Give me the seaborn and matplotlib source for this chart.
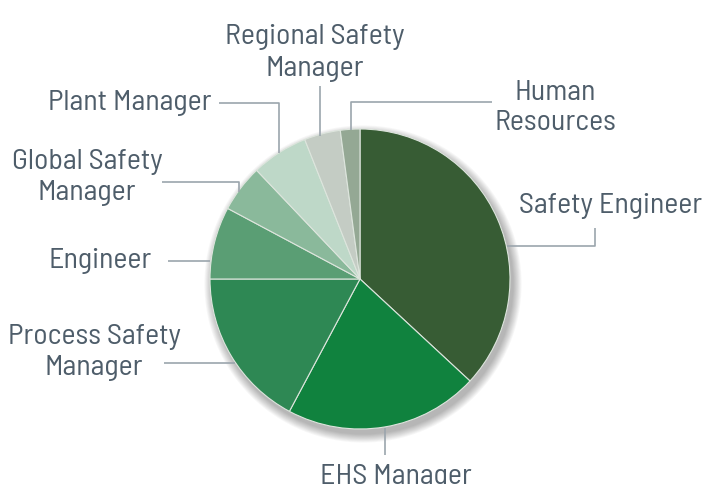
import matplotlib
matplotlib.use('Agg')
import matplotlib.pyplot as plt
import seaborn as sns
from matplotlib.patches import Circle

# job roles, clockwise from the top
roles = ['Safety Engineer', 'EHS Manager', 'Process Safety\nManager', 'Engineer',
         'Global Safety\nManager', 'Plant Manager', 'Regional Safety\nManager', 'Human\nResources']
shares = [36.9, 20.9, 17.2, 7.8, 5.1, 6.1, 3.9, 2.1]
colors = ['#375c34', '#10823e', '#2e8854', '#5a9e74', '#8ab99b', '#bed8c8', '#c4ccc4', '#94a894']

W, H = 708, 485
CX, CY, R = 360, 280, 150
TEXT = '#4e5d6a'
LINE = '#9ba5ad'

# label placement in pixels: (x, y, ha), and leader polylines
label_pos = {
    'Safety Engineer': (519, 206, 'left'),
    'EHS Manager': (396, 477, 'center'),
    'Process Safety\nManager': (94, 353, 'center'),
    'Engineer': (100, 261, 'center'),
    'Global Safety\nManager': (87, 178, 'center'),
    'Plant Manager': (211, 103, 'right'),
    'Regional Safety\nManager': (315, 53, 'center'),
    'Human\nResources': (555, 108, 'center'),
}
leaders = {
    'Safety Engineer': [(507, 247), (595, 247), (595, 229)],
    'EHS Manager': [(385, 429), (385, 456)],
    'Process Safety\nManager': [(164, 364), (235, 364)],
    'Engineer': [(168, 262), (210, 262)],
    'Global Safety\nManager': [(162, 183), (239, 183), (239, 193)],
    'Plant Manager': [(219, 104), (279, 104), (279, 154)],
    'Regional Safety\nManager': [(320, 87), (320, 137)],
    'Human\nResources': [(351, 131), (351, 103), (492, 103)],
}

sns.set_theme(style='white')
plt.rcParams['font.family'] = ['Barlow Semi Condensed', 'DejaVu Sans']

fig = plt.figure(figsize=(W / 100, H / 100), dpi=100)
ax = fig.add_axes([0, 0, 1, 1])

# soft drop shadow behind the pie
for k in range(10):
    ax.add_patch(Circle((CX + 3, CY + 5), R + 0.5 + k * 0.9, color='black',
                        alpha=0.03, lw=0, zorder=0))

# y axis is inverted below, so counterclock=True reads clockwise on screen
ax.pie(shares, colors=colors, startangle=-90, counterclock=True,
       center=(CX, CY), radius=R, frame=True,
       wedgeprops=dict(edgecolor='#dde5dd', linewidth=0.8))

for role in roles:
    xs, ys = zip(*leaders[role])
    ax.plot(xs, ys, color=LINE, lw=1.2, solid_capstyle='butt', zorder=3)
    x, y, ha = label_pos[role]
    ax.text(x, y, role, ha=ha, va='center', fontsize=21.5, color=TEXT,
            linespacing=1.25, zorder=4)

ax.set_xlim(0, W)
ax.set_ylim(H, 0)
ax.set_axis_off()
fig.savefig('out.png', dpi=100, facecolor='white')
